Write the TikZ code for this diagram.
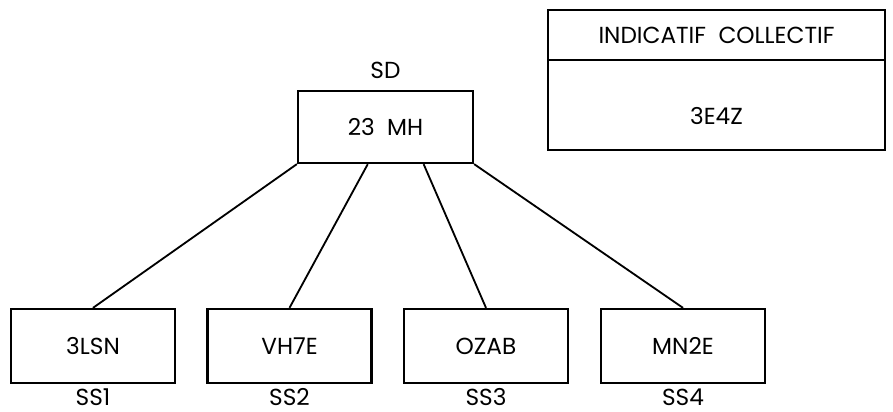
\documentclass[tikz,border=0pt]{standalone}
\usepackage{fontspec}
\setmainfont{Poppins}
\usetikzlibrary{positioning, calc}
\tikzset{
  unit/.style={draw, line width=1.6pt, minimum width=4.1cm, minimum height=1.85cm, inner sep=0pt},
  head/.style={unit, minimum width=4.375cm, minimum height=1.8cm},
  cbox/.style={draw, line width=1.6pt, minimum width=8.425cm, minimum height=#1, outer sep=0pt, inner sep=0pt},
  tag/.style={inner sep=0pt},
  link/.style={line width=1.3pt},
}
\begin{document}
\begin{tikzpicture}[x=0.025cm, y=-0.025cm, font=\fontsize{16.5}{19}\selectfont]
  \useasboundingbox (0,0) rectangle (893,412);
  % station directrice
  \node[head] (sd) at (385.5,127) {23\ \ MH};
  \node[tag, above=0.27cm of sd] (sdlbl) {SD};
  % stations secondaires
  \foreach \i/\x/\t in {1/93/3LSN, 2/289.5/VH7E, 3/486/OZAB, 4/683/MN2E} {
    \node[unit] (ss\i) at (\x,346) {\t};
    \node[tag, below=0.1cm of ss\i] (sslbl\i) {SS\i};
  }
  \draw[link] (sd.south west) -- (ss1.north);
  \draw[link] ($(sd.south west)!0.4!(sd.south east)$) -- (ss2.north);
  \draw[link] ($(sd.south west)!0.715!(sd.south east)$) -- (ss3.north);
  \draw[link] (sd.south east) -- (ss4.north);
  % indicatif collectif
  \node[cbox=1.25cm] (ctitle) at (716.5,35) {INDICATIF\ \ COLLECTIF};
  \node[cbox=2.25cm, below=0pt of ctitle] (cval) {};
  \node (ccode) at ($(cval.center)+(0,11)$) {3E4Z};
\end{tikzpicture}
\end{document}
